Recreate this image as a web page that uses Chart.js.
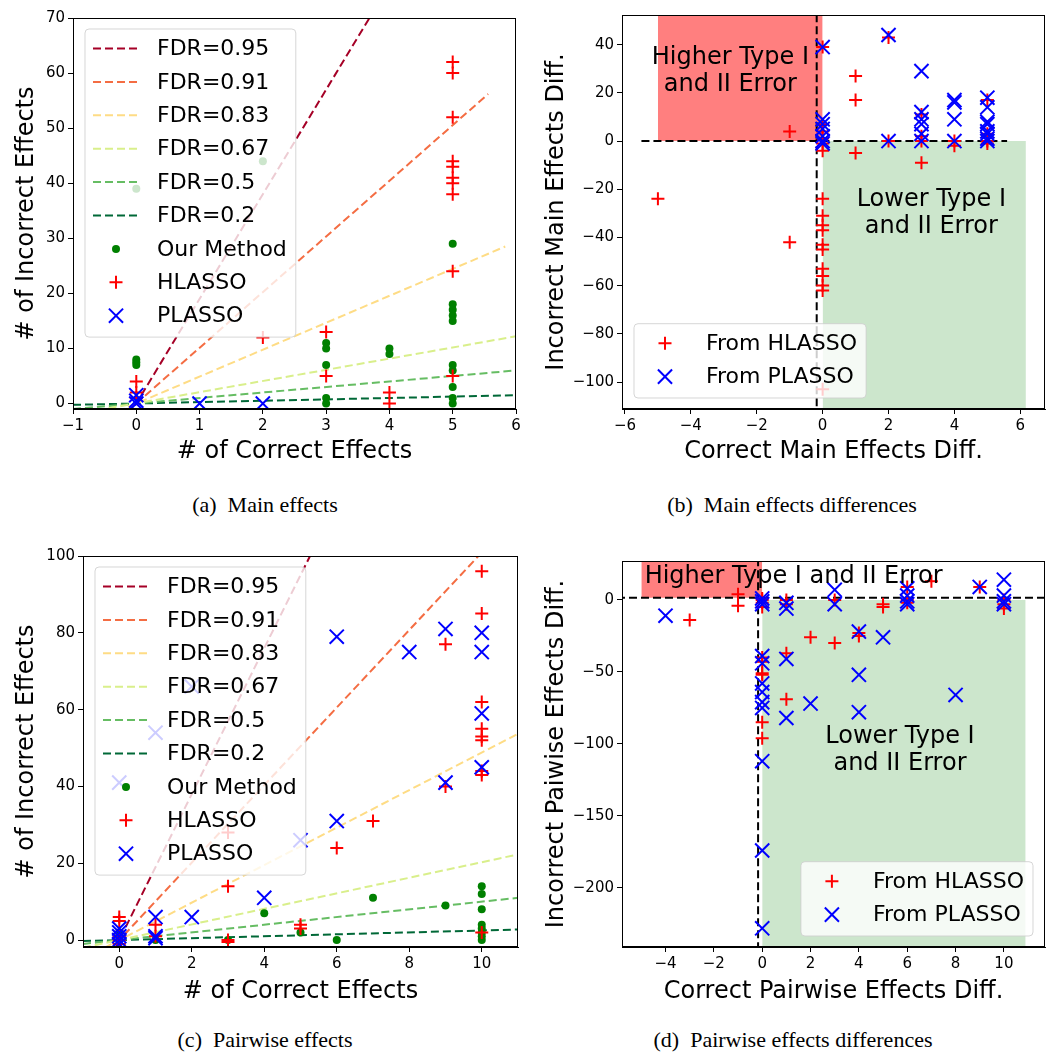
<!DOCTYPE html>
<html>
<head>
<meta charset="utf-8">
<script src="https://cdn.jsdelivr.net/npm/chart.js@4/dist/chart.umd.min.js"></script>
<style>
  body { margin: 0; background: #fff; width: 1046px; height: 1054px; position: relative; overflow: hidden; }
  canvas { position: absolute; }
  .cap { position: absolute; width: 520px; text-align: center; font: 22px "Liberation Serif", serif; color: #000; }
</style>
</head>
<body>
<canvas id="chartA" width="530" height="470" style="left:0;top:0"></canvas>
<canvas id="chartB" width="516" height="470" style="left:530px;top:0"></canvas>
<canvas id="chartC" width="530" height="470" style="left:0;top:540px"></canvas>
<canvas id="chartD" width="516" height="470" style="left:530px;top:540px"></canvas>
<div class="cap" style="left:5px;top:492px">(a)&nbsp; Main effects</div>
<div class="cap" style="left:532px;top:492px">(b)&nbsp; Main effects differences</div>
<div class="cap" style="left:5px;top:1027px">(c)&nbsp; Pairwise effects</div>
<div class="cap" style="left:533px;top:1027px">(d)&nbsp; Pairwise effects differences</div>
<script>
// reference lines, one per false discovery rate
const FDR_LABELS = ['FDR=0.95', 'FDR=0.91', 'FDR=0.83', 'FDR=0.67', 'FDR=0.5', 'FDR=0.2'];
const FDR_COLORS = ['#a50026', '#f46d43', '#fedc85', '#d9ef8b', '#66bd63', '#006837'];
const A_FDR_LINES = [[[-1, -19], [6, 114]], [[-1, -10.1], [5.56, 56.2]], [[-1, -4.9], [5.83, 28.5]],
                     [[-1, -2], [6, 12.2]], [[-1, -1], [6, 6]], [[-1, -0.25], [6, 1.5]]];
const C_FDR_LINES = [[[-1, -19], [11, 209]], [[-1, -10.1], [11, 111]], [[-1, -4.9], [11, 53.7]],
                     [[-1, -2], [11, 22.3]], [[-1, -1], [11, 11]], [[-1, -0.25], [11, 2.75]]];

// (a) main effects: x -> list of y
const A_OURS = { 0: [8, 7.5, 7, 39], 2: [44], 3: [11, 10, 7, 1, 0], 4: [10, 9], 5: [29, 18, 17, 16, 15, 7, 6, 3, 1, 0] };
const A_HLASSO = { 0: [4, 2, 1], 2: [12], 3: [13, 5], 4: [2, 0], 5: [71, 62, 60, 52, 44, 43, 41, 40, 38, 24, 5] };
const A_PLASSO = { 0: [1.5, 0.5, 0], 1: [0], 2: [0] };
const A_X_TICKS = [-1, 0, 1, 2, 3, 4, 5, 6];
const A_Y_TICKS = [0, 10, 20, 30, 40, 50, 60, 70];

// (b) main effects differences
const B_HLASSO = { '-5': [-24], '-1': [4, -42],
  0: [39, 7, 4, 1, -1, -4, -24, -31, -35, -37, -43, -45, -53, -56, -60, -62, -103],
  1: [27, 17, -5], 2: [43, 0], 3: [11, 2, 0, -9], 4: [0, -2], 5: [17, 3, 0, -1] };
const B_PLASSO = { 0: [39, 9, 7, 5, 2, 0, -1], 2: [44, 0], 3: [29, 12, 9, 7, 3, 0],
  4: [17, 16, 9, 0], 5: [18, 14, 8, 7, 4, 3, 1, 0] };
const B_X_TICKS = [-6, -4, -2, 0, 2, 4, 6];
const B_Y_TICKS = [-100, -80, -60, -40, -20, 0, 20, 40];
const B_HIGHER_SPAN = [-5, 0];
const B_LOWER_SPAN = [0, 6.17];
const B_HLINE = [[-5.5, 0], [5.6, 0]];
const B_VLINE = [[-0.18, -120], [-0.18, 60]];
const B_NOTES = [{ x: -2.8, y: 29, lines: ['Higher Type I', 'and II Error'] },
                 { x: 3.3, y: -30, lines: ['Lower Type I', 'and II Error'] }];

// (c) pairwise effects
const C_OURS = { 0: [2, 1, 0], 1: [0], 3: [0], 4: [7], 5: [2], 6: [0], 7: [11], 9: [9], 10: [14, 12, 8, 4, 3, 2, 1, 0] };
const C_HLASSO = { 0: [6, 5, 1, 0, -1], 1: [4, 1], 3: [28, 14, 0, -0.5], 5: [4, 3], 6: [24], 7: [31],
  9: [77, 40], 10: [96, 85, 62, 55, 53, 52, 44, 43, 2] };
const C_PLASSO = { 0: [41, 3, 2, 1, 0, -1], 1: [54, 6, 1, 0.5], 2: [66, 6], 4: [11], 5: [26], 6: [79, 31],
  8: [75], 9: [81, 41], 10: [80, 75, 59, 45] };
const C_X_TICKS = [0, 2, 4, 6, 8, 10];
const C_Y_TICKS = [0, 20, 40, 60, 80, 100];

// (d) pairwise effects differences
const D_HLASSO = { '-3': [-14], '-1': [4, -4], 0: [1, 0, -2, -5, -40, -43, -51, -52, -85, -96],
  1: [0, -3, -37, -69], 2: [-26], 3: [0, -30], 4: [-23, -25], 5: [-3, -5], 6: [9, 0, -2], 7: [13], 9: [9], 10: [0, -3, -6] };
const D_PLASSO = { '-4': [-11], 0: [1, -1, -3, -39, -44, -58, -64, -71, -75, -112, -174, -228],
  1: [-2, -6, -41, -82], 2: [-72], 3: [7, -3], 4: [-22, -52, -78], 5: [-26], 6: [8, 3, -1, -3],
  8: [-66], 9: [9], 10: [14, 3, -1, -3] };
const D_X_TICKS = [-4, -2, 0, 2, 4, 6, 8, 10];
const D_Y_TICKS = [-200, -150, -100, -50, 0];
const D_HIGHER_SPAN = [-5, 0];
const D_LOWER_SPAN = [0, 10.9];
const D_HLINE = [[-7, 1.5], [13, 1.5]];
const D_VLINE = [[-0.17, -260], [-0.17, 40]];
const D_NOTES = [{ x: 1.3, y: 16, lines: ['Higher Type I and II Error'] },
                 { x: 5.7, y: -104.5, lines: ['Lower Type I', 'and II Error'] }];

const FONT = 'DejaVu Sans';

const toPoints = obj => Object.keys(obj).flatMap(k => obj[k].map(y => ({ x: Number(k), y })));
const pairs = arr => arr.map(p => ({ x: p[0], y: p[1] }));

const ours = obj => ({ label: 'Our Method', data: toPoints(obj), pointStyle: 'circle', pointRadius: 4,
  pointBackgroundColor: '#008000', pointBorderWidth: 0, order: 3, clip: 0 });
const hlasso = (obj, label) => ({ label, data: toPoints(obj), pointStyle: 'cross', pointRadius: 6.5,
  pointBorderColor: '#ff0000', pointBackgroundColor: '#ff0000', pointBorderWidth: 2, order: 2, clip: 0 });
const plasso = (obj, label) => ({ label, data: toPoints(obj), pointStyle: 'crossRot', pointRadius: 10,
  pointBorderColor: '#0000ff', pointBackgroundColor: '#0000ff', pointBorderWidth: 2, order: 1, clip: 0 });
const dashed = (pts, color, label) => ({ type: 'line', label, data: pairs(pts), borderColor: color,
  borderWidth: 2, borderDash: [8, 4], pointRadius: 0, fill: false, order: 10, clip: 0 });
const span = (xs, y, color, fill) => ({ type: 'line', data: [{ x: xs[0], y }, { x: xs[1], y }],
  borderWidth: 0, pointRadius: 0, backgroundColor: color, fill, order: 20, clip: 0 });

const fdrSets = lines => lines.map((l, i) => dashed(l, FDR_COLORS[i], FDR_LABELS[i]));

// text inside the plot, in data coordinates
const notesPlugin = {
  id: 'notes',
  afterDatasetsDraw(chart, args, opts) {
    if (!opts.items) return;
    const ctx = chart.ctx;
    ctx.save();
    ctx.font = '24px "' + FONT + '"';
    ctx.fillStyle = '#000';
    ctx.textAlign = 'center';
    ctx.textBaseline = 'middle';
    opts.items.forEach(n => {
      const cx = chart.scales.x.getPixelForValue(n.x);
      const cy = chart.scales.y.getPixelForValue(n.y);
      const lh = 27;
      n.lines.forEach((t, i) => ctx.fillText(t, cx, cy + (i - (n.lines.length - 1) / 2) * lh));
    });
    ctx.restore();
  }
};

function drawMarker(ctx, d, cx, cy) {
  ctx.save();
  if (d.type === 'line') {
    ctx.strokeStyle = d.borderColor;
    ctx.lineWidth = d.borderWidth;
    ctx.setLineDash(d.borderDash);
    ctx.beginPath();
    ctx.moveTo(cx - 23, cy);
    ctx.lineTo(cx + 22, cy);
    ctx.stroke();
  } else if (d.pointStyle === 'circle') {
    ctx.fillStyle = d.pointBackgroundColor;
    ctx.beginPath();
    ctx.arc(cx, cy, d.pointRadius, 0, Math.PI * 2);
    ctx.fill();
  } else {
    const r = d.pointRadius;
    const rot = d.pointStyle === 'crossRot' ? Math.PI / 4 : 0;
    ctx.strokeStyle = d.pointBorderColor;
    ctx.lineWidth = d.pointBorderWidth;
    ctx.beginPath();
    [rot, rot + Math.PI / 2].forEach(a => {
      ctx.moveTo(cx - Math.cos(a) * r, cy - Math.sin(a) * r);
      ctx.lineTo(cx + Math.cos(a) * r, cy + Math.sin(a) * r);
    });
    ctx.stroke();
  }
  ctx.restore();
}

// matplotlib-like legend box drawn over the data
const boxLegend = {
  id: 'boxLegend',
  afterDatasetsDraw(chart, args, opts) {
    const items = chart.data.datasets.filter(d => d.label);
    const ctx = chart.ctx;
    const a = chart.chartArea;
    ctx.save();
    ctx.font = '22px "' + FONT + '"';
    const textW = Math.max(...items.map(d => ctx.measureText(d.label).width));
    const rowH = 33.4;
    const w = 72 + textW + 9;
    const h = items.length * rowH + 7.5;
    const x = opts.corner.includes('left') ? a.left + 12 : a.right - 12 - w;
    const y = opts.corner.includes('upper') ? a.top + 11 : a.bottom - 11 - h;
    ctx.beginPath();
    ctx.roundRect(x, y, w, h, 4);
    ctx.fillStyle = 'rgba(255,255,255,0.8)';
    ctx.fill();
    ctx.strokeStyle = 'rgba(204,204,204,0.8)';
    ctx.lineWidth = 1;
    ctx.stroke();
    ctx.fillStyle = '#000';
    ctx.textBaseline = 'middle';
    items.forEach((d, i) => {
      const cy = y + 19.5 + i * rowH;
      drawMarker(ctx, d, x + 31, cy);
      ctx.fillStyle = '#000';
      ctx.fillText(d.label, x + 72, cy + 1);
    });
    ctx.restore();
  }
};

const framePlugin = {
  id: 'frame',
  afterDraw(chart) {
    const a = chart.chartArea;
    const ctx = chart.ctx;
    ctx.save();
    ctx.strokeStyle = '#000';
    ctx.lineWidth = 1;
    ctx.strokeRect(a.left + 0.5, a.top + 0.5, a.right - a.left - 1, a.bottom - a.top - 1);
    ctx.restore();
  }
};

const fmt = v => String(v).replace('-', '\u2212');

function panel(id, p) {
  const axis = (ticks, min, max, title, isX) => ({
    type: 'linear', min, max,
    afterBuildTicks: s => { s.ticks = ticks.map(v => ({ value: v })); },
    afterFit: s => { if (isX) s.height = p.xHeight; else s.width = p.yWidth; },
    grid: { drawOnChartArea: false, drawTicks: true, tickLength: 5, color: '#000' },
    border: { display: true, color: '#000', width: 1 },
    ticks: { color: '#000', font: { family: FONT, size: 15 }, padding: 3, maxRotation: 0, autoSkip: false, callback: fmt },
    title: { display: true, text: title, color: '#000', font: { family: FONT, size: 24 },
             padding: isX ? { top: 0, bottom: 4 } : { top: 12.6, bottom: 0 } }
  });
  return new Chart(document.getElementById(id), {
    type: 'scatter',
    data: { datasets: p.datasets },
    options: {
      responsive: false,
      animation: false,
      events: [],
      layout: { autoPadding: false, padding: { top: p.padTop, right: p.padRight, left: 0, bottom: 0 } },
      scales: {
        x: axis(p.xTicks, p.xMin, p.xMax, p.xTitle, true),
        y: axis(p.yTicks, p.yMin, p.yMax, p.yTitle, false)
      },
      plugins: {
        legend: { display: false },
        tooltip: { enabled: false },
        notes: { items: p.notes },
        boxLegend: { corner: p.corner }
      }
    },
    plugins: [notesPlugin, boxLegend, framePlugin]
  });
}

panel('chartA', {
  xMin: -1, xMax: 6, yMin: -1, yMax: 70, xTicks: A_X_TICKS, yTicks: A_Y_TICKS,
  xTitle: '# of Correct Effects', yTitle: '# of Incorrect Effects',
  yWidth: 73, xHeight: 61, padTop: 18, padRight: 14, corner: 'upper left',
  datasets: [...fdrSets(A_FDR_LINES), ours(A_OURS), hlasso(A_HLASSO, 'HLASSO'), plasso(A_PLASSO, 'PLASSO')]
});

panel('chartB', {
  xMin: -6.09, xMax: 6.75, yMin: -111.2, yMax: 52.3, xTicks: B_X_TICKS, yTicks: B_Y_TICKS,
  xTitle: 'Correct Main Effects Diff.', yTitle: 'Incorrect Main Effects Diff.',
  yWidth: 92, xHeight: 61, padTop: 15, padRight: 1, corner: 'lower left', notes: B_NOTES,
  datasets: [span(B_HIGHER_SPAN, 0, 'rgba(255,0,0,0.5)', 'end'), span(B_LOWER_SPAN, 0, 'rgba(0,128,0,0.2)', 'start'),
             dashed(B_HLINE, '#000'), dashed(B_VLINE, '#000'),
             hlasso(B_HLASSO, 'From HLASSO'), plasso(B_PLASSO, 'From PLASSO')]
});

panel('chartC', {
  xMin: -1, xMax: 11, yMin: -1.8, yMax: 100, xTicks: C_X_TICKS, yTicks: C_Y_TICKS,
  xTitle: '# of Correct Effects', yTitle: '# of Incorrect Effects',
  yWidth: 83, xHeight: 63, padTop: 16, padRight: 12, corner: 'upper left',
  datasets: [...fdrSets(C_FDR_LINES), ours(C_OURS), hlasso(C_HLASSO, 'HLASSO'), plasso(C_PLASSO, 'PLASSO')]
});

panel('chartD', {
  xMin: -5.8, xMax: 11.7, yMin: -241, yMax: 27, xTicks: D_X_TICKS, yTicks: D_Y_TICKS,
  xTitle: 'Correct Pairwise Effects Diff.', yTitle: 'Incorrect Paiwise Effects Diff.',
  yWidth: 92, xHeight: 63, padTop: 21, padRight: 1, corner: 'lower right', notes: D_NOTES,
  datasets: [span(D_HIGHER_SPAN, 1.5, 'rgba(255,0,0,0.5)', 'end'), span(D_LOWER_SPAN, 0, 'rgba(0,128,0,0.2)', 'start'),
             dashed(D_HLINE, '#000'), dashed(D_VLINE, '#000'),
             hlasso(D_HLASSO, 'From HLASSO'), plasso(D_PLASSO, 'From PLASSO')]
});
</script>
</body>
</html>
